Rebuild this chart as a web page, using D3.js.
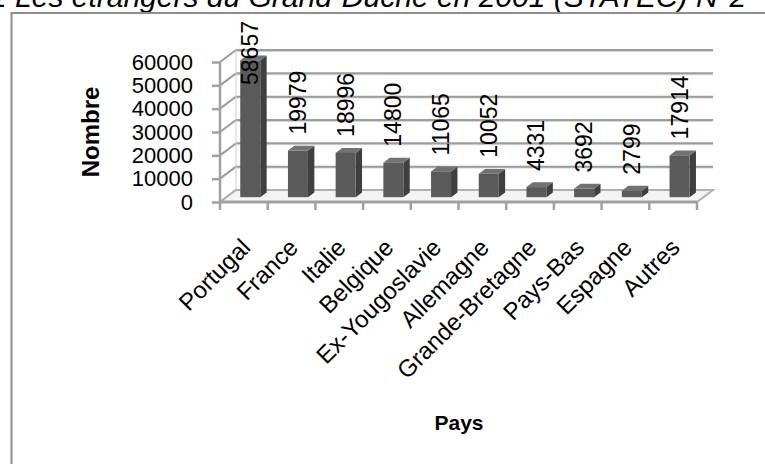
<!DOCTYPE html>
<html>
<head>
<meta charset="utf-8">
<script src="https://cdn.jsdelivr.net/npm/d3@7"></script>
<style>
  html, body { margin: 0; padding: 0; background: #fff; }
  svg { display: block; font-family: "Liberation Sans", Arial, sans-serif; }
</style>
</head>
<body>
<svg id="chart" width="765" height="464"></svg>
<script>
const categories = ["Portugal","France","Italie","Belgique","Ex-Yougoslavie","Allemagne","Grande-Bretagne","Pays-Bas","Espagne","Autres"];
const values = [58657,19979,18996,14800,11065,10052,4331,3692,2799,17914];
const yTicks = [0,10000,20000,30000,40000,50000,60000];
const titleText = "1 Les étrangers du Grand-Duché en 2001 (STATEC) N°2";
const yTitle = "Nombre";
const xTitle = "Pays";

const svg = d3.select("#chart");

// layout
const frontLeft = 220, frontRight = 697, floorY = 202, topY = 62;
const depth = {dx: 16, dy: -12};
const barW = 20;

const x = d3.scaleBand().domain(categories).range([frontLeft, frontRight]).paddingInner(0).paddingOuter(0);
const y = d3.scaleLinear().domain([0, 60000]).range([floorY, topY]);

// title (cut off at top, as in the reference)
svg.append("text")
  .attr("x", -10).attr("y", 7)
  .attr("font-size", 30).attr("font-style", "italic")
  .attr("fill", "#000")
  .text(titleText);

// chart frame
svg.append("rect")
  .attr("x", 11.5).attr("y", 13).attr("width", 800).attr("height", 500)
  .attr("fill", "#fff").attr("stroke", "#8f8f8f").attr("stroke-width", 2);

const grid = svg.append("g");
const gridColor = "#9c9c9c";

// back wall gridlines + left wall diagonals
yTicks.forEach(v => {
  const yf = y(v);
  grid.append("line")
    .attr("x1", frontLeft).attr("y1", yf)
    .attr("x2", frontLeft + depth.dx).attr("y2", yf + depth.dy)
    .attr("stroke", gridColor).attr("stroke-width", 2);
  if (v > 0) {
    grid.append("line")
      .attr("x1", frontLeft + depth.dx).attr("y1", yf + depth.dy + 1.2)
      .attr("x2", frontRight + depth.dx).attr("y2", yf + depth.dy + 1.2)
      .attr("stroke", "#d6d6d6").attr("stroke-width", 1.5);
    grid.append("line")
      .attr("x1", frontLeft + depth.dx).attr("y1", yf + depth.dy)
      .attr("x2", frontRight + depth.dx).attr("y2", yf + depth.dy)
      .attr("stroke", gridColor).attr("stroke-width", 2);
  }
});
// back wall left edge
grid.append("line")
  .attr("x1", frontLeft + depth.dx).attr("y1", y(0) + depth.dy)
  .attr("x2", frontLeft + depth.dx).attr("y2", y(60000) + depth.dy)
  .attr("stroke", "#cfcfcf").attr("stroke-width", 1);

// floor
const floorPts = [
  [frontLeft, floorY], [frontRight, floorY],
  [frontRight + depth.dx, floorY + depth.dy], [frontLeft + depth.dx, floorY + depth.dy]
];
grid.append("polygon")
  .attr("points", floorPts.map(p => p.join(",")).join(" "))
  .attr("fill", "#f4f4f4").attr("stroke", "#b0b0b0").attr("stroke-width", 2);

// front vertical axis line
grid.append("line")
  .attr("x1", frontLeft).attr("y1", floorY)
  .attr("x2", frontLeft).attr("y2", topY)
  .attr("stroke", "#a0a0a0").attr("stroke-width", 2.5);

// y axis (ticks + labels) via d3 axis
const yAxis = d3.axisLeft(y).tickValues(yTicks).tickSize(8).tickPadding(19).tickFormat(d3.format("d"));
const gy = svg.append("g").attr("transform", `translate(${frontLeft},0)`).call(yAxis);
gy.select(".domain").remove();
gy.selectAll(".tick line").attr("stroke", "#a0a0a0").attr("stroke-width", 2.5);
gy.selectAll(".tick text").attr("font-size", 22).attr("fill", "#000").attr("font-family", "Liberation Sans, Arial, sans-serif");

// x axis front edge + category ticks
svg.append("line")
  .attr("x1", frontLeft).attr("y1", floorY)
  .attr("x2", frontRight).attr("y2", floorY)
  .attr("stroke", "#a0a0a0").attr("stroke-width", 3);
const boundaries = categories.map(c => x(c)).concat([x(categories[categories.length - 1]) + x.bandwidth()]);
svg.selectAll(".xtick").data(boundaries).enter().append("line")
  .attr("class", "xtick")
  .attr("x1", d => d).attr("x2", d => d)
  .attr("y1", floorY).attr("y2", floorY + 8)
  .attr("stroke", "#a0a0a0").attr("stroke-width", 2.5);

// bars (pseudo 3D)
const t0 = 0.4, t1 = 0.8;
const bars = svg.append("g");
categories.forEach((c, i) => {
  const v = values[i];
  const cx = x(c) + x.bandwidth() / 2 + depth.dx * t0;
  const by = floorY + depth.dy * t0;
  const ty = by - (floorY - y(v));
  const x0 = cx - barW / 2, x1 = cx + barW / 2;
  const ddx = depth.dx * (t1 - t0), ddy = depth.dy * (t1 - t0);
  bars.append("polygon")
    .attr("points", [[x1, by], [x1 + ddx, by + ddy], [x1 + ddx, ty + ddy], [x1, ty]].map(p => p.join(",")).join(" "))
    .attr("fill", "#3f3f3f");
  bars.append("polygon")
    .attr("points", [[x0, ty], [x1, ty], [x1 + ddx, ty + ddy], [x0 + ddx, ty + ddy]].map(p => p.join(",")).join(" "))
    .attr("fill", "#727272");
  bars.append("rect")
    .attr("x", x0).attr("y", ty).attr("width", barW).attr("height", by - ty)
    .attr("fill", "#5a5a5a");
});

// data labels
const labels = svg.append("g");
categories.forEach((c, i) => {
  const v = values[i];
  const cx = x(c) + x.bandwidth() / 2 + depth.dx * t0;
  const by = floorY + depth.dy * t0;
  const ty = by - (floorY - y(v));
  const t = labels.append("text")
    .attr("font-size", 23).attr("fill", "#000")
    .attr("text-anchor", "start").attr("dominant-baseline", "central")
    .text(String(v));
  const len = t.node().getComputedTextLength();
  let bottom = ty - 16;
  if (bottom - len < 21) bottom = 21 + len;
  t.attr("transform", `translate(${cx},${bottom}) rotate(-90)`);
});

// category labels
svg.selectAll(".cat").data(categories).enter().append("text")
  .attr("class", "cat")
  .attr("font-size", 24).attr("fill", "#000")
  .attr("text-anchor", "end").attr("dominant-baseline", "central")
  .attr("transform", d => `translate(${x(d) + x.bandwidth() / 2 + 2},${floorY + 41}) rotate(-45)`)
  .text(d => d);

// axis titles
svg.append("text")
  .attr("font-size", 24).attr("font-weight", "bold").attr("fill", "#000")
  .attr("text-anchor", "middle").attr("dominant-baseline", "central")
  .attr("transform", "translate(90,132) rotate(-90)")
  .text(yTitle);

svg.append("text")
  .attr("font-size", 21).attr("font-weight", "bold").attr("fill", "#000")
  .attr("text-anchor", "middle").attr("dominant-baseline", "central")
  .attr("x", 459).attr("y", 422)
  .text(xTitle);
</script>
</body>
</html>
